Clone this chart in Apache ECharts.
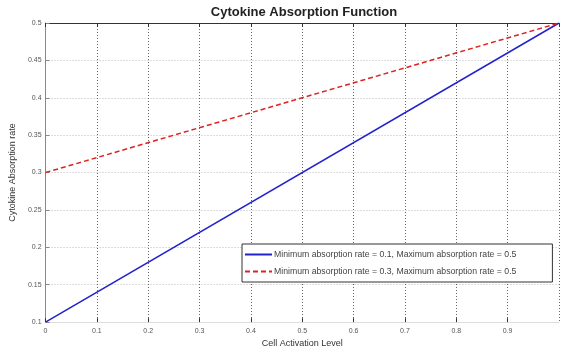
<!DOCTYPE html>
<html>
<head>
<meta charset="utf-8">
<script src="https://cdn.jsdelivr.net/npm/echarts@6/dist/echarts.min.js"></script>
<style>
  html, body { margin: 0; padding: 0; background: #fff; }
  #chart { width: 561px; height: 353px; }
</style>
</head>
<body>
<div id="chart"></div>
<script>
// Absorption rate as a function of cell activation level (linear ramps)
const activation = [0, 1];
const rateLow = [0.1, 0.5];   // min 0.1 -> max 0.5
const rateHigh = [0.3, 0.5];  // min 0.3 -> max 0.5
const seriesNames = [
  'Minimum absorption rate = 0.1, Maximum absorption rate = 0.5',
  'Minimum absorption rate = 0.3, Maximum absorption rate = 0.5'
];

const font = 'Liberation Sans, Arial, sans-serif';
const toPairs = (xs, ys) => xs.map((x, i) => [x, ys[i]]);

const chart = echarts.init(document.getElementById('chart'), null, { renderer: 'canvas' });
chart.setOption({
  animation: false,
  backgroundColor: '#fff',
  title: {
    text: 'Cytokine Absorption Function',
    left: 299, top: 1, textAlign: 'center',
    textStyle: { fontFamily: font, fontSize: 13, fontWeight: 'bold', color: '#222' }
  },
  grid: { left: 40, right: 2, top: 23, bottom: 26 },
  legend: {
    left: 242, top: 244,
    orient: 'vertical',
    backgroundColor: '#fff',
    borderColor: '#333', borderWidth: 1,
    padding: [6, 36, 6, 2],
    itemGap: 8, itemWidth: 27, itemHeight: 9,
    itemStyle: { opacity: 0 },
    textStyle: { fontFamily: font, fontSize: 8.7, color: '#444', padding: [0, 0, 0, -3] },
    data: seriesNames
  },
  xAxis: [{
    type: 'value', min: 0, max: 1, interval: 0.1,
    name: 'Cell Activation Level', nameLocation: 'middle', nameGap: 16,
    nameTextStyle: { fontFamily: font, fontSize: 9, color: '#333' },
    axisLine: { show: true, lineStyle: { color: '#ddd' } },
    axisTick: { show: true, inside: true, length: 4, lineStyle: { color: '#333' } },
    axisLabel: { fontFamily: font, fontSize: 7, color: '#555', margin: 5, showMaxLabel: false },
    splitLine: { show: true, lineStyle: { type: [1, 2], color: '#666' } }
  }, {
    type: 'value', position: 'top', min: 0, max: 1, interval: 0.1,
    axisLine: { show: true, onZero: false, lineStyle: { color: '#333' } },
    axisTick: { show: true, inside: true, length: 4, lineStyle: { color: '#333' } },
    axisLabel: { show: false },
    splitLine: { show: false }
  }],
  yAxis: {
    type: 'value', min: 0.1, max: 0.5, interval: 0.05,
    name: 'Cytokine Absorption rate', nameLocation: 'middle', nameGap: 18,
    nameTextStyle: { fontFamily: font, fontSize: 9, color: '#333' },
    axisLine: { show: true, lineStyle: { color: '#888' } },
    axisTick: { show: true, inside: true, length: 4, lineStyle: { color: '#888' } },
    axisLabel: { fontFamily: font, fontSize: 7, color: '#555', margin: 4,
      formatter: v => String(parseFloat(v.toFixed(2))) },
    splitLine: { show: true, lineStyle: { type: [1, 2], color: '#bbb' } }
  },
  series: [{
    name: seriesNames[0], type: 'line', xAxisIndex: 0, symbol: 'none',
    data: toPairs(activation, rateLow),
    lineStyle: { color: '#2222cc', width: 1.5 }, itemStyle: { color: '#2222cc' }
  }, {
    name: seriesNames[1], type: 'line', xAxisIndex: 0, symbol: 'none',
    data: toPairs(activation, rateHigh),
    lineStyle: { color: '#dd2222', width: 1.5, type: [5, 3] }, itemStyle: { color: '#dd2222' }
  }]
});
</script>
</body>
</html>
